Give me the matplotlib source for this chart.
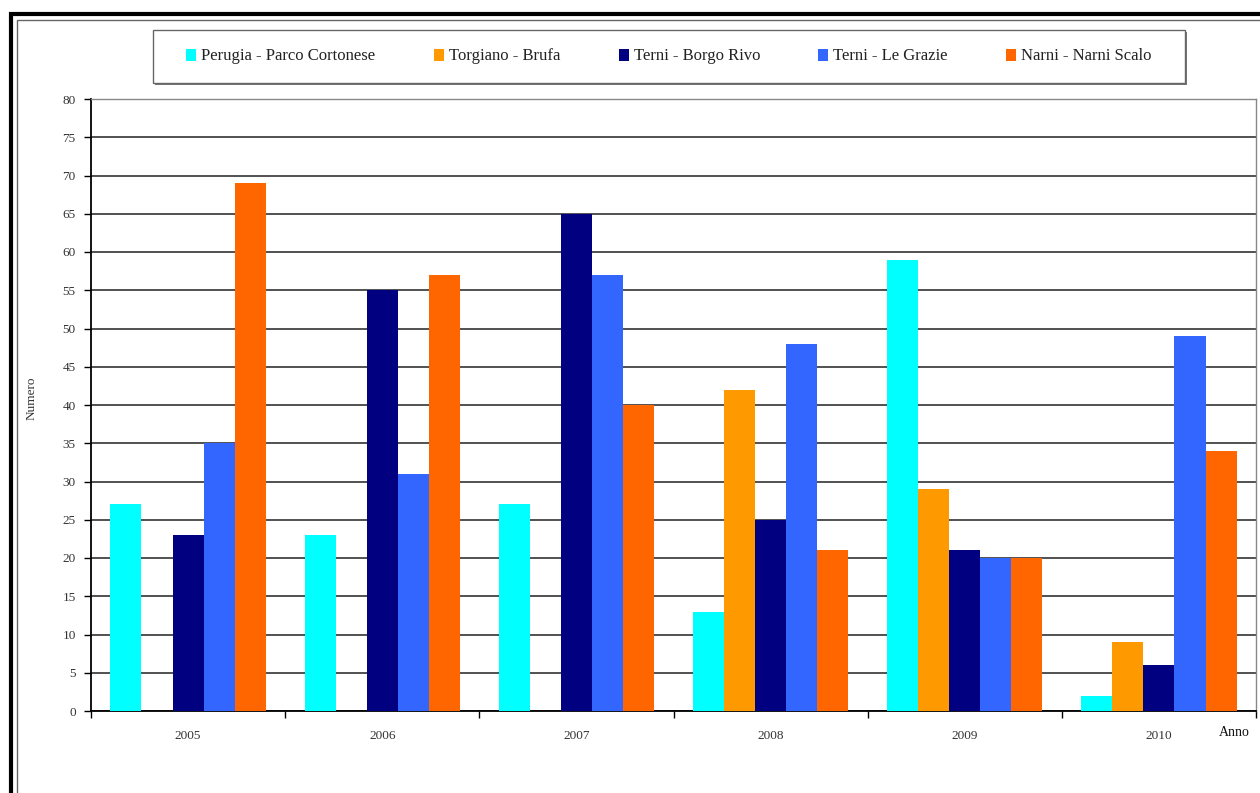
import matplotlib
matplotlib.use("Agg")
import matplotlib.pyplot as plt
from matplotlib.patches import Rectangle
import numpy as np

years = ["2005", "2006", "2007", "2008", "2009", "2010"]
stations = ["Perugia - Parco Cortonese", "Torgiano - Brufa", "Terni - Borgo Rivo",
            "Terni - Le Grazie", "Narni - Narni Scalo"]
perugia = [27, 23, 27, 13, 59, 2]
torgiano = [0, 0, 0, 42, 29, 9]
terni_borgo = [23, 55, 65, 25, 21, 6]
terni_grazie = [35, 31, 57, 48, 20, 49]
narni = [69, 57, 40, 21, 20, 34]
series = [perugia, torgiano, terni_borgo, terni_grazie, narni]
colors = ["#00FFFF", "#FF9900", "#000080", "#3366FF", "#FF6600"]
yticks = list(range(0, 81, 5))

plt.rcParams["font.family"] = ["Liberation Serif", "DejaVu Serif"]

W, H = 1260, 793
fig = plt.figure(figsize=(W / 100, H / 100), dpi=100)
fig.patch.set_facecolor("white")


def fx(px):
    return px / W


def fy(py):
    return 1 - py / H


# outer page frame (thick black) and inner thin frame
fig.add_artist(Rectangle((fx(10.5), -0.05), 1.2, fy(14) + 0.05,
                         transform=fig.transFigure, fill=False,
                         edgecolor="black", linewidth=3))
fig.add_artist(Rectangle((fx(16.5), -0.05), 1.2, fy(19.5) + 0.05,
                         transform=fig.transFigure, fill=False,
                         edgecolor="#666666", linewidth=1))

ax = fig.add_axes([fx(91), fy(711), fx(1256) - fx(91), fy(99) - fy(711)])

x = np.arange(len(years))
width = 0.16
handles = []
for i, (vals, col, name) in enumerate(zip(series, colors, stations)):
    b = ax.bar(x + (i - 2) * width, vals, width, color=col, label=name, zorder=3)
    handles.append(b)

ax.set_xlim(-0.5, len(years) - 0.5)
ax.set_ylim(0, 80)
ax.set_yticks(yticks)
ax.set_yticklabels([str(t) for t in yticks], fontsize=9.5, color="#333333")
ax.yaxis.grid(True, color="#222222", linewidth=1.1, zorder=0)
ax.set_axisbelow(True)

# category ticks sit on group boundaries, labels in the middle
ax.set_xticks(np.arange(len(years) + 1) - 0.5)
ax.set_xticklabels([])
ax.set_xticks(x, minor=True)
ax.set_xticklabels(years, minor=True, fontsize=9.5, color="#333333")
ax.tick_params(axis="x", which="minor", length=0, pad=14)
ax.tick_params(axis="x", which="major", length=5, width=1, direction="out")
ax.tick_params(axis="y", length=5, width=1, direction="out", pad=6)

for side in ["left", "bottom"]:
    ax.spines[side].set_color("black")
    ax.spines[side].set_linewidth(1.3)
for side in ["top", "right"]:
    ax.spines[side].set_color("#888888")
    ax.spines[side].set_linewidth(1)

fig.text(fx(32), fy(398), "Numero", fontsize=9.5, color="#333333",
         rotation=90, ha="center", va="center")
fig.text(fx(1234), fy(733), "Anno", fontsize=10, color="#111111",
         ha="center", va="center")

# legend box with a light drop shadow
box_l, box_r, box_t, box_b = 153, 1185, 30, 83
fig.add_artist(Rectangle((fx(box_l + 2), fy(box_b + 2)), fx(box_r) - fx(box_l),
                         fy(box_t) - fy(box_b), transform=fig.transFigure,
                         facecolor="#777777", edgecolor="none", zorder=1))
fig.add_artist(Rectangle((fx(box_l), fy(box_b)), fx(box_r) - fx(box_l),
                         fy(box_t) - fy(box_b), transform=fig.transFigure,
                         facecolor="white", edgecolor="#666666", linewidth=1,
                         zorder=2))

leg = fig.legend(handles=handles, labels=stations, loc="center",
                 bbox_to_anchor=(fx((box_l + box_r) / 2), fy((box_t + box_b) / 2)),
                 ncol=5, frameon=False, fontsize=12, handlelength=0.6,
                 handleheight=0.7, handletextpad=0.3, columnspacing=3.5,
                 borderpad=0, borderaxespad=0)
leg.set_zorder(3)
for t in leg.get_texts():
    t.set_color("#222222")

fig.savefig("out.png", dpi=100, facecolor="white")
